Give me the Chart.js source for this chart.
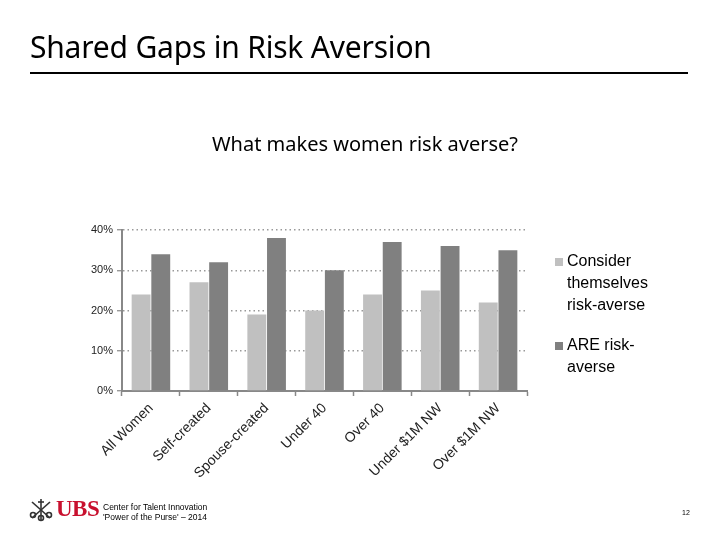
<!DOCTYPE html>
<html><head><meta charset="utf-8">
<script src="https://cdn.jsdelivr.net/npm/chart.js@4.4.0/dist/chart.umd.min.js"></script>
<style>
html,body{margin:0;padding:0;background:#fff;width:720px;height:540px;overflow:hidden;position:relative;font-family:"Liberation Sans",Arial,sans-serif}
#wrap{position:absolute;left:0;top:0;width:720px;height:540px}
#ttl{position:absolute;left:30px;top:26px;font-family:"Noto Sans",sans-serif;font-size:30px;color:#000;white-space:nowrap;letter-spacing:-0.2px}
#rule{position:absolute;left:30px;top:72px;width:658px;height:2px;background:#000}
#sub{position:absolute;left:165px;width:400px;top:130px;text-align:center;font-family:"Noto Sans",sans-serif;font-size:20px;color:#000;white-space:nowrap}
#ubs{position:absolute;left:56px;top:496px;font-family:"Liberation Serif",serif;font-weight:bold;font-size:23px;color:#c8102e;letter-spacing:-0.5px}
#foot{position:absolute;left:103px;top:502px;font-size:8.5px;line-height:10px;color:#000}
#pg{position:absolute;left:682px;top:509px;font-size:7px;color:#000}
#logo{position:absolute;left:28px;top:497px}
</style></head>
<body>
<div id="wrap"><canvas id="c" width="720" height="540"></canvas></div>
<div id="ttl">Shared Gaps in Risk Aversion</div>
<div id="rule"></div>
<div id="sub">What makes women risk averse?</div>
<svg id="logo" width="26" height="26" viewBox="0 0 26 26">
 <g stroke="#333" stroke-width="1.6" fill="none">
  <line x1="13" y1="2" x2="13" y2="24"/>
  <line x1="4" y1="5" x2="22" y2="21"/>
  <line x1="22" y1="5" x2="4" y2="21"/>
  <circle cx="13" cy="21" r="2.5"/>
  <circle cx="5" cy="18" r="2.5"/>
  <circle cx="21" cy="18" r="2.5"/>
  <line x1="10" y1="5" x2="16" y2="5"/>
 </g>
</svg>
<div id="ubs">UBS</div>
<div id="foot">Center for Talent Innovation<br>'Power of the Purse' – 2014</div>
<div id="pg">12</div>
<script>
const categories = ["All Women","Self-created","Spouse-created","Under 40","Over 40","Under $1M NW","Over $1M NW"];
const considerValues = [24, 27, 19, 20, 24, 25, 22];
const areValues = [34, 32, 38, 30, 37, 36, 35];
const seriesLabels = [["Consider","themselves","risk-averse"],["ARE risk-","averse"]];
const yTicks = [0, 10, 20, 30, 40];

const legendPlugin = {
  id: 'sideLegend',
  afterDraw(chart) {
    const ctx = chart.ctx;
    const x0 = chart.chartArea.right + 28;
    const starts = [261, 345];
    ctx.save();
    ctx.font = '16px "Liberation Sans", Arial, sans-serif';
    ctx.textBaseline = 'middle';
    chart.data.datasets.forEach((ds, i) => {
      const lines = seriesLabels[i];
      ctx.fillStyle = ds.backgroundColor;
      ctx.fillRect(x0, starts[i] - 3, 8, 8);
      ctx.fillStyle = '#000';
      lines.forEach((ln, j) => ctx.fillText(ln, x0 + 12, starts[i] + 1 + j * 22));
    });
    ctx.restore();
  }
};

new Chart(document.getElementById('c'), {
  type: 'bar',
  data: {
    labels: categories,
    datasets: [
      {label: "Consider themselves risk-averse", data: considerValues, backgroundColor: '#c0c0c0', categoryPercentage: 0.68, barPercentage: 0.96},
      {label: "ARE risk-averse", data: areValues, backgroundColor: '#808080', categoryPercentage: 0.68, barPercentage: 0.96}
    ]
  },
  options: {
    responsive: false,
    animation: false,
    layout: {padding: {top: 230, left: 78, right: 193, bottom: 0}},
    plugins: {
      legend: {display: false},
      tooltip: {enabled: false},
      title: {display: false}
    },
    scales: {
      x: {
        grid: {display: true, drawOnChartArea: false, offset: true, tickLength: 5, color: '#888', tickWidth: 1.5},
        border: {display: true, color: '#888', width: 2},
        ticks: {minRotation: 45, maxRotation: 45, autoSkip: false, color: '#222', padding: 4,
          font: {family: '"Liberation Sans", Arial, sans-serif', size: 14}},
        afterFit(s) { s.height = 149; }
      },
      y: {
        min: 0, max: 40,
        afterBuildTicks(s) { s.ticks = yTicks.map(v => ({value: v})); },
        grid: {color: '#999', lineWidth: 1.4, tickLength: 5, drawTicks: true},
        border: {display: true, color: '#888', width: 2, dash: [1.5, 3]},
        ticks: {color: '#222', padding: 4, callback: v => v + '%',
          font: {family: '"Liberation Sans", Arial, sans-serif', size: 11}},
        afterFit(s) { s.width = 44; }
      }
    }
  },
  plugins: [legendPlugin]
});
</script>
</body></html>
